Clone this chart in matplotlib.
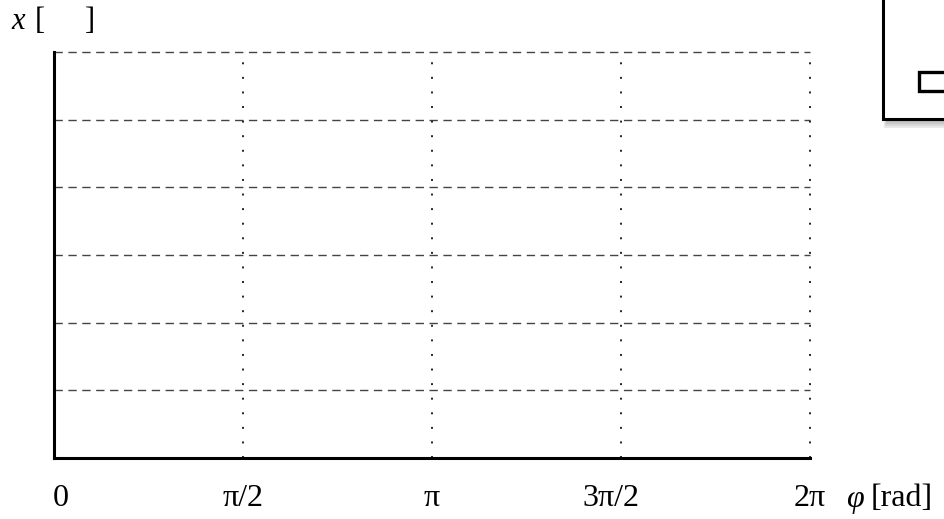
import numpy as np
import matplotlib
matplotlib.use("Agg")
import matplotlib.pyplot as plt
from matplotlib.patches import Rectangle

# data
tick_positions = [0, np.pi/2, np.pi, 3*np.pi/2, 2*np.pi]
tick_labels = ["0", "π/2", "π", "3π/2", "2π"]
y_grid = [1, 2, 3, 4, 5, 6]
x_max = 2*np.pi
y_max = 6

W, H = 945, 519
fig = plt.figure(figsize=(W/100, H/100), dpi=100)
ax = fig.add_axes([54/W, 1-458/H, (810-54)/W, (458-52)/H])
ax.set_xlim(0, x_max)
ax.set_ylim(0, y_max)

for s in ["top", "right"]:
    ax.spines[s].set_visible(False)
for s in ["left", "bottom"]:
    ax.spines[s].set_linewidth(2.2)
    ax.spines[s].set_color("black")
ax.set_xticks([])
ax.set_yticks([])

for yv in y_grid:
    ax.axhline(yv, color="#444444", lw=1.0, ls=(0, (6, 4)), zorder=1, clip_on=False)
for xv in tick_positions[1:]:
    ax.axvline(xv, color="#222222", lw=1.4, ls=(0, (1, 6.5)), zorder=1, clip_on=False)

serif = "Liberation Serif"
fs = 23
label_y = 1 - 499/H
offsets_px = {0: 7, 3: -10, 4: 0}
for i, (p, lab) in enumerate(zip(tick_positions, tick_labels)):
    xpx = ax.transData.transform((p, 0))[0] + offsets_px.get(i, 0)
    fig.text(xpx/W, label_y, lab, ha="center", va="center", fontsize=fs, family=serif)

fig.text(855/W, label_y, "φ", ha="center", va="center", fontsize=fs,
         family=serif, style="italic")
fig.text(871/W, label_y, "[rad]", ha="left", va="center", fontsize=fs, family=serif)

fig.text(11/W, 1-22/H, "x", ha="left", va="center", fontsize=22, family=serif,
         style="italic")
fig.text(35/W, 1-22/H, "[", ha="left", va="center", fontsize=22, family=serif)
fig.text(85/W, 1-22/H, "]", ha="left", va="center", fontsize=22, family=serif)

# legend-like box in the corner with a shadow
def px_rect(x0, y0, x1, y1, **kw):
    r = Rectangle((x0/W, 1-y1/H), (x1-x0)/W, (y1-y0)/H, transform=fig.transFigure,
                  clip_on=False, **kw)
    fig.add_artist(r)
    return r

for k in range(5):
    px_rect(884 + k, -10, 960, 128 - 2*k, facecolor="#888888",
            edgecolor="none", alpha=0.18)
px_rect(883, -10, 960, 119, facecolor="white", edgecolor="black", lw=2.2)
px_rect(919, 72, 960, 91, facecolor="white", edgecolor="black", lw=2.4)

fig.savefig("out.png", dpi=100)
